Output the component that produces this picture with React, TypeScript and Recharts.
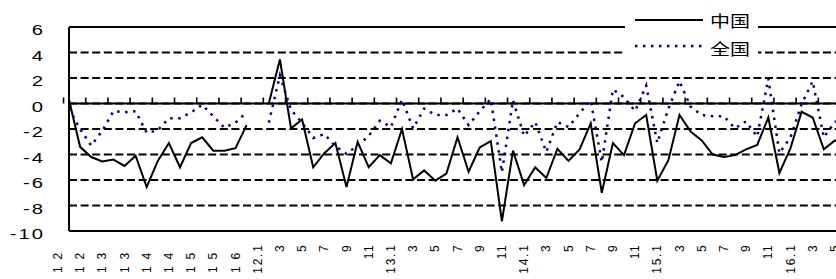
import { LineChart, Line, XAxis, YAxis, CartesianGrid, ReferenceLine, Legend } from 'recharts';

// monthly values, null = no data that month
const china = [
    0.3, -3.4, -4.2, -4.55, -4.4, -4.9, -4.1, -6.55, -4.5, -3.1, -5.0, -3.1, -2.65, -3.7, -3.7, -3.5, -1.7, null,
    0, 3.45, -1.95, -1.25, -5.0, -3.9, -3.1, -6.55, -3.0, -5.0, -4.05, -4.7,
    -2.0, -5.95, -5.25, -6.05, -5.5, -2.65, -5.35, -3.45, -2.95, -9.25, -3.7, -6.4,
    -5.0, -5.85, -3.55, -4.5, -3.6, -1.55, -7.0, -3.1, -4.05, -1.55, -0.9, -6.05,
    -4.45, -0.9, -2.2, -2.9, -4.0, -4.2, -4.05, -3.6, -3.25, -1.1, -5.45, -3.5,
    -0.65, -1.1, -3.6, -2.9, -3.3,
];

const nation = [
    -0.4, -2.0, -3.3, -2.15, -0.6, -0.7, -0.6, -2.3, -2.1, -1.15, -1.15, -0.7, -0.1, -1.0, -1.9, -1.5, -0.7, null,
    -1.5, 2.2, -0.5, -1.5, -2.7, -2.4, -3.35, -3.95, -3.3, -2.55, -1.35, -1.85,
    0.3, -1.95, -0.4, -0.9, -0.9, -0.4, -1.7, -0.6, 0.35, -5.4, 0.25, -2.55,
    -1.45, -3.8, -1.45, -1.85, -0.75, 0.25, -4.6, 1.1, 0.5, -0.6, 1.4, -3.1,
    -0.4, 1.75, -0.25, -0.9, -1.0, -1.0, -1.95, -1.4, -2.6, 1.95, -3.9, -2.65,
    -0.05, 1.75, -2.65, -1.45, -1.2,
];

// one label every two months
const tickLabels = [
    '1 2\u2002', '1 2\u2002', '1 3\u2002', '1 3\u2002', '1 4\u2002', '1 4\u2002', '1 5\u2002', '1 5\u2002', '1 6\u2002',
    '12.1', '3', '5', '7', '9', '11',
    '13.1', '3', '5', '7', '9', '11',
    '14.1', '3', '5', '7', '9', '11',
    '15.1', '3', '5', '7', '9', '11',
    '16.1', '3', '5',
];

const yTicks = [-10, -8, -6, -4, -2, 0, 2, 4, 6];

const data = china.map((v, i) => ({ i, china: v, nation: nation[i] }));

const LATIN = '"Liberation Sans", Arial, sans-serif';
const CJK = '"Noto Sans CJK SC", sans-serif';

const W = 850;
const H = 279;
const PLOT_LEFT = 69;
const PLOT_TOP = 27;
const PLOT_H = 204;
const PLOT_W = 777;
const BW = PLOT_W / data.length;
const ZERO_Y = PLOT_TOP + PLOT_H * (6 / 16);
const DOTS = '2.5 5.5';

function XTick({ x, index }: any) {
    if (index % 2) return null;
    const label = tickLabels[index / 2];
    const bx = x - BW / 2;
    const lx = x - BW - 0.3 + 4.3;
    return (
        <g>
            <line x1={bx} x2={bx} y1={ZERO_Y - 6} y2={ZERO_Y} stroke="#000" strokeWidth={1.6} />
            <text
                transform={`translate(${lx},243.5) rotate(-90)`}
                textAnchor="end"
                fontSize={12}
                letterSpacing={1.7}
                fontFamily={LATIN}
                fill="#000"
            >
                {label}
            </text>
        </g>
    );
}

function YTick({ y, payload }: any) {
    return (
        <g transform={`translate(45,${y + 8.3}) scale(1.35,1)`}>
            <text x={0} y={0} textAnchor="end" fontSize={15} letterSpacing={1.5} fontFamily={LATIN} fill="#000">
                {payload.value}
            </text>
        </g>
    );
}

function LegendBox({ payload }: any) {
    return (
        <svg width={133} height={58} style={{ display: 'block' }}>
            {(payload || []).map((e: any, k: number) => {
                const ly = 14 + k * 26;
                return (
                    <g key={e.value}>
                        <line
                            x1={10}
                            x2={78}
                            y1={ly}
                            y2={ly}
                            stroke={e.color}
                            strokeWidth={e.payload?.strokeDasharray ? 2.5 : 2}
                            strokeDasharray={e.payload?.strokeDasharray}
                        />
                        <g transform={`translate(85,${ly + 7 + k * 2}) scale(1.25,1)`}>
                            <text x={0} y={0} fontSize={16} fontFamily={CJK} fill="#000">{e.value}</text>
                        </g>
                    </g>
                );
            })}
        </svg>
    );
}

export default function App() {
    return (
        <div style={{ position: 'absolute', left: 0, top: 0, width: 836, height: H, overflow: 'hidden', background: '#fff' }}>
            <LineChart
                width={W}
                height={H}
                data={data}
                margin={{ top: PLOT_TOP, right: W - PLOT_LEFT - PLOT_W, bottom: 0, left: 0 }}
            >
                <CartesianGrid vertical={false} stroke="#000" strokeWidth={1.8} strokeDasharray="8 3.6" />
                <XAxis
                    dataKey="i"
                    interval={0}
                    height={H - PLOT_TOP - PLOT_H}
                    tickLine={false}
                    axisLine={{ stroke: '#000', strokeWidth: 2 }}
                    tick={<XTick />}
                />
                <YAxis
                    domain={[-10, 6]}
                    ticks={yTicks}
                    width={PLOT_LEFT}
                    tickLine={false}
                    axisLine={{ stroke: '#000', strokeWidth: 2 }}
                    tick={<YTick />}
                />
                <ReferenceLine y={6} stroke="#000" strokeWidth={2} />
                <ReferenceLine y={0} stroke="#000" strokeWidth={2} />
                <Line
                    name="中国"
                    dataKey="china"
                    stroke="#000"
                    strokeWidth={2}
                    dot={false}
                    isAnimationActive={false}
                />
                <Line
                    name="全国"
                    dataKey="nation"
                    stroke="#000080"
                    strokeWidth={2.5}
                    strokeDasharray={DOTS}
                    dot={false}
                    isAnimationActive={false}
                />
                <Legend
                    layout="horizontal"
                    align="center"
                    verticalAlign="middle"
                    content={<LegendBox />}
                    wrapperStyle={{ left: 625, top: 6, width: 133, height: 58, background: '#fff', lineHeight: 0 }}
                />
            </LineChart>
        </div>
    );
}
